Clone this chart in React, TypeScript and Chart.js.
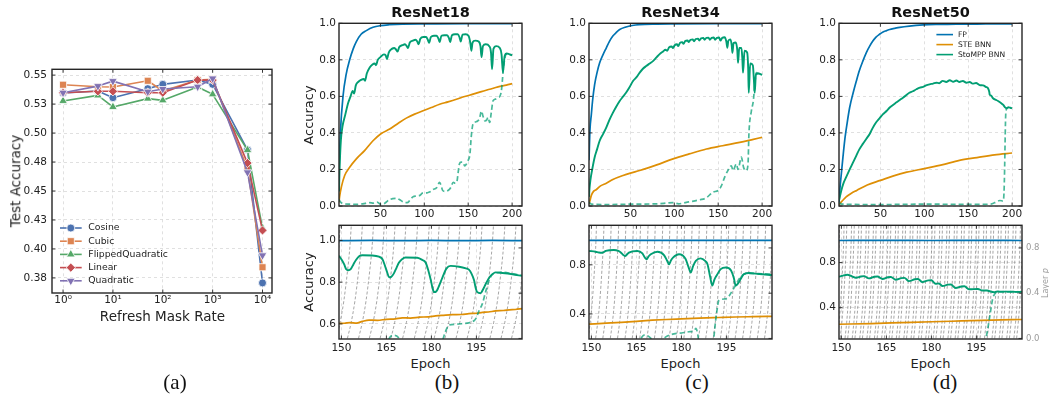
import React, { useEffect, useRef } from "react";
import { Chart, registerables } from "chart.js";

Chart.register(...registerables);

const SANS = "'DejaVu Sans', 'Noto Sans', sans-serif";
const SERIF = "'Liberation Serif', 'DejaVu Serif', serif";
Chart.defaults.font.family = SANS;
Chart.defaults.color = "#222";

// ---------------- Panel (a) data ----------------
const refreshMaskRates = [1, 5, 10, 50, 100, 500, 1000, 5000, 10000];
const cosineAcc = [0.5345, 0.5363, 0.5305, 0.5383, 0.542, 0.5457, 0.542, 0.4855, 0.3707];
const cubicAcc = [0.5417, 0.54, 0.5397, 0.5451, 0.5363, 0.5457, 0.5463, 0.469, 0.3842];
const flippedQuadraticAcc = [0.5277, 0.5325, 0.5225, 0.5297, 0.5282, 0.5397, 0.5334, 0.4853, 0.418];
const linearAcc = [0.5348, 0.536, 0.536, 0.5348, 0.5348, 0.5457, 0.5457, 0.4741, 0.416];
const quadraticAcc = [0.5348, 0.5405, 0.5448, 0.5357, 0.538, 0.54, 0.5471, 0.4661, 0.3945];
const rateTicks = [1, 10, 100, 1000, 10000];
const rateTickLabels = ["10⁰", "10¹", "10²", "10³", "10⁴"];
const testAccTicks = [0.375, 0.4, 0.425, 0.45, 0.475, 0.5, 0.525, 0.55];
const testAccTickLabels = ["0.38", "0.40", "0.43", "0.45", "0.48", "0.50", "0.53", "0.55"];

// ---------------- common ticks ----------------
const epochTicks = [50, 100, 150, 200];
const epochTickLabels = ["50", "100", "150", "200"];
const accTicks = [0, 0.2, 0.4, 0.6, 0.8, 1.0];
const accTickLabels = ["0.0", "0.2", "0.4", "0.6", "0.8", "1.0"];
const zoomEpochTicks = [150, 165, 180, 195];
const zoomEpochTickLabels = ["150", "165", "180", "195"];
const r18ZoomTicks = [0.6, 0.8, 1.0];
const r18ZoomTickLabels = ["0.6", "0.8", "1.0"];
const r34ZoomTicks = [0.4, 0.8];
const r34ZoomTickLabels = ["0.4", "0.8"];
const r50ZoomTicks = [0.4, 0.8];
const r50ZoomTickLabels = ["0.4", "0.8"];
const layerPTicks = [0, 0.4, 0.8];
const layerPTickLabels = ["0.0", "0.4", "0.8"];

// ---------------- ResNet18 (epoch, accuracy) ----------------
const r18FP = [[2.85, 0.2], [4.4, 0.4], [7.4, 0.6], [11, 0.72], [15, 0.8], [19, 0.86], [22.6, 0.9], [28, 0.94], [34, 0.96], [41.6, 0.978], [50, 0.987], [60, 0.992], [75, 0.996], [100, 0.997], [150, 0.998], [200, 0.998]];
const r18STE = [[2.85, 0.02], [3.5, 0.05], [5.5, 0.103], [9.3, 0.167], [15, 0.212], [22.6, 0.258], [32, 0.303], [41.6, 0.357], [51, 0.397], [60.6, 0.421], [70, 0.452], [79.5, 0.481], [89, 0.503], [98.6, 0.521], [108, 0.539], [117.5, 0.557], [127, 0.57], [136.6, 0.584], [146, 0.599], [155.5, 0.612], [165, 0.626], [174.5, 0.639], [184, 0.652], [193.5, 0.662], [200, 0.67]];
const r18Sto = [[2.85, 0.08], [3.5, 0.2], [5, 0.36], [7, 0.44], [10, 0.5], [13, 0.56], [16, 0.6], [18.5, 0.63], [20, 0.615], [22, 0.66], [25, 0.68], [28, 0.69], [31, 0.695], [32.5, 0.685], [34.5, 0.725], [38, 0.76], [41, 0.775], [43.5, 0.78], [45, 0.77], [47, 0.8], [50, 0.815], [54, 0.83], [56, 0.825], [57.5, 0.805], [59.5, 0.84], [63, 0.86], [66, 0.865], [68, 0.855], [69.5, 0.845], [71.5, 0.87], [75, 0.88], [78, 0.885], [80, 0.875], [81.5, 0.865], [83.5, 0.895], [87, 0.905], [90, 0.91], [92, 0.9], [93.5, 0.885], [95.5, 0.915], [99, 0.925], [102, 0.925], [104, 0.91], [105.5, 0.893], [107.5, 0.925], [111, 0.932], [114, 0.932], [116, 0.918], [117.5, 0.897], [119.5, 0.932], [123, 0.935], [126, 0.935], [128, 0.92], [129.5, 0.898], [131.5, 0.935], [135, 0.94], [138, 0.94], [140, 0.925], [141.5, 0.9], [143.5, 0.938], [147, 0.94], [150.5, 0.93], [152.5, 0.89], [153.6, 0.85], [155, 0.895], [158, 0.905], [162, 0.9], [164, 0.875], [165.2, 0.815], [166.8, 0.875], [170, 0.885], [174, 0.875], [176, 0.84], [177.2, 0.748], [178.8, 0.86], [182, 0.875], [186, 0.865], [188, 0.83], [189.6, 0.732], [191.5, 0.82], [194, 0.835], [197, 0.83], [200, 0.825]];
const r18StoDet = [[2.85, 0.035], [5, 0.02], [7.4, 0.013], [15, 0.01], [22.6, 0.009], [30, 0.012], [37.8, 0.018], [42, 0.016], [46, 0.022], [49, 0.012], [51, 0.009], [54, 0.012], [56.8, 0.022], [60, 0.035], [64, 0.04], [68, 0.042], [72, 0.034], [75, 0.025], [78, 0.018], [81.5, 0.02], [84, 0.035], [87, 0.05], [91, 0.055], [95, 0.058], [98, 0.07], [100.5, 0.07], [103, 0.072], [106, 0.076], [110, 0.09], [114, 0.1], [117.5, 0.13], [119, 0.115], [121, 0.085], [124, 0.08], [127, 0.085], [130, 0.1], [133, 0.13], [135, 0.125], [137, 0.13], [138.5, 0.18], [140, 0.23], [142, 0.24], [144, 0.24], [146, 0.22], [148, 0.23], [150, 0.25], [152, 0.285], [153.5, 0.38], [155.5, 0.45], [158, 0.46], [161, 0.466], [163, 0.48], [165, 0.52], [167, 0.49], [169, 0.466], [171, 0.47], [172.6, 0.485], [174.5, 0.457], [176.5, 0.52], [178.3, 0.575], [181, 0.585], [184, 0.593], [186, 0.6], [187.8, 0.63], [189, 0.69], [190, 0.75], [191.5, 0.8], [193, 0.83], [196, 0.832], [200, 0.826]];
// ResNet18 zoom (epochs 150+)
const r18ZoomFP = [[149.2, 0.999], [160, 1.0], [170, 0.999], [180, 1.0], [190, 0.999], [200, 1.0], [210.2, 0.999]];
const r18ZoomSTE = [[149.2, 0.602], [151, 0.603], [153, 0.606], [155, 0.604], [157, 0.612], [159.2, 0.618], [162, 0.617], [165, 0.622], [168, 0.624], [170.3, 0.629], [173, 0.628], [176, 0.632], [179, 0.634], [181.4, 0.638], [184, 0.641], [187, 0.644], [190, 0.645], [192.5, 0.649], [195, 0.651], [197, 0.655], [199, 0.657], [201.4, 0.662], [204, 0.664], [206, 0.667], [208, 0.669], [210.2, 0.673]];
const r18ZoomSto = [[149.2, 0.926], [150.2, 0.905], [150.9, 0.886], [151.6, 0.862], [152.3, 0.857], [153.1, 0.862], [154, 0.885], [154.8, 0.905], [156, 0.925], [157, 0.929], [160.3, 0.928], [162.5, 0.922], [163.7, 0.91], [164.6, 0.875], [165.3, 0.845], [165.9, 0.823], [166.6, 0.825], [167.5, 0.842], [168.4, 0.87], [169.2, 0.894], [170.2, 0.91], [171.4, 0.918], [175.3, 0.917], [177, 0.906], [178.1, 0.893], [179, 0.855], [179.8, 0.81], [180.4, 0.77], [180.9, 0.752], [181.6, 0.755], [182.2, 0.77], [183.7, 0.823], [185, 0.865], [186.4, 0.878], [189.2, 0.874], [191.5, 0.866], [192.5, 0.86], [193.4, 0.84], [194.2, 0.81], [194.8, 0.77], [195.3, 0.752], [196.4, 0.747], [197.2, 0.765], [198.1, 0.791], [199, 0.815], [199.8, 0.831], [201.4, 0.847], [203.7, 0.844], [207, 0.838], [210.2, 0.83]];
const r18ZoomStoDet = [[164.8, 0.49], [165.6, 0.52], [166.4, 0.54], [167.5, 0.545], [169, 0.535], [169.8, 0.51], [170.3, 0.49], [171, null], [182.8, 0.49], [183.7, 0.52], [184.6, 0.56], [185.9, 0.594], [188, 0.598], [190.3, 0.601], [192.5, 0.605], [194.2, 0.615], [194.8, 0.625], [195.8, 0.66], [197, 0.697], [198.1, 0.755], [199.2, 0.807], [200.2, 0.835], [200.9, 0.842], [203.7, 0.847], [207, 0.84], [210.2, 0.832]];

// ---------------- ResNet34 ----------------
const r34FP = [[2.85, 0.25], [4, 0.42], [5.5, 0.5], [7, 0.58], [9.3, 0.666], [12, 0.73], [15, 0.784], [19, 0.83], [22.6, 0.866], [26, 0.9], [30, 0.93], [34, 0.95], [37.8, 0.966], [45, 0.98], [52, 0.988], [60, 0.993], [80, 0.996], [100, 0.997], [150, 0.998], [200, 0.998]];
const r34STE = [[2.85, 0.01], [4, 0.03], [5.5, 0.058], [8, 0.08], [11, 0.089], [16, 0.11], [22.6, 0.125], [30, 0.145], [41.6, 0.167], [50, 0.18], [60.6, 0.194], [80, 0.225], [98.6, 0.258], [117, 0.285], [136.6, 0.312], [155, 0.33], [174.5, 0.348], [190, 0.365], [200, 0.376]];
const r34Sto = [[2.85, 0.05], [3.5, 0.1], [4.4, 0.14], [6.5, 0.2], [9.3, 0.267], [12, 0.31], [15, 0.357], [19, 0.395], [22.6, 0.43], [26, 0.47], [30, 0.51], [34, 0.545], [37.8, 0.575], [41, 0.595], [45, 0.62], [49, 0.65], [53, 0.684], [57, 0.705], [60.6, 0.73], [64, 0.75], [68, 0.766], [72, 0.78], [75.7, 0.793], [80, 0.815], [83, 0.83], [87, 0.845], [90, 0.855], [92, 0.85], [94, 0.868], [97, 0.873], [98.5, 0.865], [100.5, 0.88], [103, 0.885], [104.5, 0.875], [106.5, 0.893], [109, 0.897], [110.5, 0.888], [112.5, 0.903], [115, 0.906], [116.5, 0.897], [118.5, 0.91], [121, 0.912], [122.5, 0.902], [124.5, 0.914], [127, 0.916], [128.5, 0.906], [130.5, 0.918], [133, 0.92], [134.5, 0.91], [136.5, 0.92], [139, 0.921], [140.5, 0.91], [142.5, 0.92], [145, 0.922], [146.5, 0.91], [148.5, 0.92], [151, 0.922], [152.5, 0.905], [154.5, 0.92], [157.4, 0.924], [159.3, 0.9], [160.4, 0.866], [161.6, 0.905], [164, 0.912], [165.4, 0.88], [166.2, 0.838], [167.5, 0.892], [170, 0.895], [171.8, 0.85], [172.6, 0.784], [174, 0.865], [176.5, 0.865], [177.6, 0.8], [178.3, 0.73], [180, 0.85], [183, 0.84], [184.2, 0.75], [184.8, 0.62], [186.5, 0.78], [189.5, 0.77], [190.8, 0.68], [191.6, 0.62], [193, 0.72], [196, 0.725], [200, 0.718]];
const r34StoDet = [[2.85, 0.02], [6, 0.01], [20, 0.008], [50, 0.01], [80, 0.012], [98.6, 0.018], [105, 0.012], [113.7, 0.02], [120, 0.025], [129, 0.034], [136.6, 0.045], [144, 0.076], [150, 0.085], [153.6, 0.11], [157.4, 0.158], [161, 0.194], [165, 0.22], [166.9, 0.194], [170.7, 0.23], [172.6, 0.2], [176.4, 0.267], [179, 0.21], [182, 0.194], [184, 0.23], [185, 0.394], [187.8, 0.52], [190, 0.575], [192, 0.684], [193.5, 0.73], [196, 0.725], [200, 0.72]];
const r34ZoomFP = [[149.2, 0.999], [165, 1.0], [180, 0.999], [195, 1.0], [210.2, 0.999]];
const r34ZoomSTE = [[149.2, 0.317], [155, 0.325], [160, 0.332], [165, 0.34], [170.3, 0.349], [175, 0.355], [180, 0.36], [186, 0.366], [192.5, 0.371], [198, 0.375], [204, 0.378], [210.2, 0.381]];
const r34ZoomSto = [[149.2, 0.913], [151.4, 0.907], [152.5, 0.9], [153.7, 0.898], [154.8, 0.913], [157.5, 0.921], [159, 0.913], [159.8, 0.9], [160.6, 0.88], [161.2, 0.872], [162, 0.888], [162.5, 0.9], [165.3, 0.913], [167, 0.893], [167.8, 0.86], [168.4, 0.845], [169.1, 0.87], [169.8, 0.886], [172, 0.907], [174.2, 0.88], [175.2, 0.835], [175.9, 0.805], [176.5, 0.835], [177.2, 0.859], [179.2, 0.886], [181.4, 0.848], [182.4, 0.78], [183.1, 0.738], [183.9, 0.79], [184.8, 0.832], [186.4, 0.853], [188, 0.83], [188.7, 0.805], [189.6, 0.7], [190.3, 0.631], [191, 0.68], [191.7, 0.711], [193.1, 0.765], [194.8, 0.778], [196.5, 0.755], [197.5, 0.69], [198.1, 0.631], [198.6, 0.64], [199.2, 0.66], [200.1, 0.7], [200.9, 0.725], [202.5, 0.733], [205.9, 0.725], [210.2, 0.717]];
const r34ZoomStoDet = [[165, 0.15], [166.5, 0.2], [167.5, 0.228], [168.5, 0.225], [169.8, 0.202], [170.5, 0.17], [171, null], [173, 0.15], [174.2, 0.2], [175.5, 0.222], [177.5, 0.238], [180, 0.245], [182.5, 0.255], [184.3, 0.265], [184.8, 0.282], [185.4, 0.24], [185.9, 0.15], [186.5, null], [190.6, 0.15], [191.2, 0.3], [191.7, 0.4], [192.5, 0.51], [194.8, 0.523], [196, 0.55], [197, 0.59], [198.3, 0.644], [199.2, 0.684], [200.9, 0.725], [203.7, 0.73], [207, 0.727], [210.2, 0.725]];

// ---------------- ResNet50 ----------------
const r50FP = [[2.85, 0.02], [4, 0.1], [5.5, 0.176], [7.4, 0.27], [9.3, 0.357], [12, 0.45], [15, 0.539], [19, 0.62], [22.6, 0.684], [26, 0.74], [30, 0.793], [34, 0.84], [37.8, 0.875], [41, 0.9], [45, 0.924], [49, 0.94], [53, 0.953], [57, 0.96], [60.6, 0.966], [66, 0.972], [72, 0.978], [83, 0.985], [98.6, 0.991], [117.5, 0.994], [136.6, 0.996], [150, 0.995], [170, 0.997], [200, 0.997]];
const r50STE = [[2.85, 0.005], [5, 0.02], [7, 0.03], [11, 0.05], [17, 0.07], [23, 0.085], [35, 0.115], [50, 0.14], [65, 0.165], [80, 0.185], [100, 0.205], [120, 0.225], [140, 0.25], [160, 0.265], [180, 0.28], [200, 0.29]];
const r50Sto = [[2.85, 0.03], [5.5, 0.085], [8, 0.125], [11, 0.158], [14, 0.19], [17, 0.22], [20, 0.25], [22.6, 0.276], [26, 0.31], [30, 0.34], [34, 0.368], [37.8, 0.394], [41, 0.425], [45, 0.457], [49, 0.48], [53, 0.503], [57, 0.52], [60.6, 0.539], [64, 0.552], [68, 0.566], [72, 0.58], [75.7, 0.593], [79, 0.605], [83, 0.62], [87, 0.628], [91, 0.639], [95, 0.648], [98.6, 0.652], [102, 0.66], [106, 0.666], [110, 0.67], [113.7, 0.675], [117, 0.672], [121, 0.685], [125, 0.679], [129, 0.688], [133, 0.68], [136.6, 0.687], [140, 0.679], [144, 0.684], [148, 0.675], [151.7, 0.679], [155, 0.67], [159, 0.673], [163, 0.662], [167, 0.66], [170, 0.652], [172.6, 0.644], [174, 0.625], [174.5, 0.61], [176, 0.605], [178.3, 0.59], [181, 0.582], [184, 0.575], [187, 0.565], [190, 0.553], [192, 0.54], [193.5, 0.535], [196, 0.54], [198, 0.538], [200, 0.535]];
const r50StoDet = [[2.85, 0.018], [6, 0.01], [50, 0.008], [100, 0.01], [150, 0.009], [175, 0.01], [182, 0.022], [186, 0.03], [190, 0.027], [191, 0.1], [193, 0.52], [195.6, 0.54], [200, 0.535]];
const r50ZoomFP = [[149.2, 0.996], [165, 0.997], [180, 0.996], [195, 0.997], [210.2, 0.996]];
const r50ZoomSTE = [[149.2, 0.253], [160, 0.259], [170, 0.267], [180, 0.275], [190, 0.282], [200, 0.289], [210.2, 0.295]];
const r50ZoomSto = [[149.2, 0.675], [150.5, 0.685], [152, 0.692], [153.5, 0.678], [154.8, 0.665], [156.5, 0.677], [157.5, 0.68], [159.2, 0.66], [161, 0.675], [162, 0.676], [163.7, 0.655], [165.5, 0.67], [166.5, 0.672], [168.1, 0.648], [170, 0.662], [171, 0.664], [172.5, 0.636], [174.5, 0.652], [175.5, 0.655], [177, 0.627], [179, 0.642], [180, 0.643], [181.4, 0.612], [182.5, 0.615], [183.7, 0.592], [185.5, 0.605], [186.5, 0.606], [188.1, 0.574], [190, 0.588], [191, 0.59], [192.5, 0.563], [194, 0.565], [195.5, 0.566], [197, 0.552], [198.5, 0.553], [199.2, 0.548], [200.9, 0.537], [202, 0.543], [203.7, 0.542], [206, 0.542], [208, 0.54], [210.2, 0.541]];
const r50ZoomStoDet = [[197.8, 0.08], [198.7, 0.2], [199.5, 0.33], [200.5, 0.488], [201.2, 0.525], [201.7, 0.537], [204, 0.541], [207, 0.54], [210.2, 0.54]];

// ---------------- Layer p ramps (gray dashed, right axis) ----------------
const layerRampT = [0, 0.25, 0.5, 0.75, 0.9, 1];
const layerRampP = [0, 0.14, 0.33, 0.6, 0.8, 1];
const r18LayerStarts = [144.6, 148.3, 152, 155.7, 159.3, 162.9, 166.5, 170.4, 174.3, 177.6, 180.9, 184.5, 188.2, 191.9, 195.7, 199.5, 203.2, 206.7];
const r34LayerStarts = [146.5, 148.9, 151.4, 153.8, 156.3, 158.7, 161.2, 163.6, 166.1, 168.5, 171, 173.4, 175.9, 178.3, 180.8, 183.2, 185.7, 188.1, 190.6, 193, 195.5, 197.9, 200.4, 202.8, 205.3, 207.7];
const r50LayerStarts = [146.3, 147.2, 148.7, 149.6, 151.2, 152.1, 153.6, 154.5, 156.1, 157, 158.5, 159.4, 161, 161.9, 163.4, 164.3, 165.9, 166.8, 168.3, 169.2, 170.8, 171.7, 173.2, 174.1, 175.7, 176.6, 178.1, 179, 180.6, 181.5, 183, 183.9, 185.5, 186.4, 187.9, 188.8, 190.4, 191.3, 192.8, 193.7, 195.3, 196.2, 197.7, 198.6, 200.2, 201.1, 202.6, 203.5, 205.1, 206, 207.5, 208.4];

// ---------------- styles ----------------
const FP_C = "#0173b2";
const STE_C = "#de8f05";
const STO_C = "#029e73";
const STO_LIGHT = "rgba(2,158,115,0.72)";
const GRAY = "rgba(100,100,100,0.68)";

const gridStyle = { color: "#d9d9d9", lineWidth: 0.8, drawTicks: false };
const borderStyle = { display: false, dash: [3, 3] };

const toXY = (a: any[]) => a.map(([x, y]: any) => ({ x, y }));
const fixTicks = (values: number[]) => (scale: any) => {
  scale.ticks = values.map((v) => ({ value: v }));
};

function xAxis(min: number, max: number, ticks: number[], labels: string[], h: number, pad: number, type = "linear") {
  return {
    type, min, max,
    afterBuildTicks: fixTicks(ticks),
    afterFit: (s: any) => { s.height = h; },
    ticks: { autoSkip: false, maxRotation: 0, minRotation: 0, padding: pad, font: { size: 10.5 }, color: "#222", callback: (_v: any, i: number) => labels[i] },
    grid: gridStyle, border: borderStyle,
  };
}
function yAxis(min: number, max: number, ticks: number[], labels: string[], w: number, pad = 3) {
  return {
    type: "linear", position: "left", min, max,
    afterBuildTicks: fixTicks(ticks),
    afterFit: (s: any) => { s.width = w; },
    ticks: { autoSkip: false, padding: pad, font: { size: 10.5 }, color: "#222", callback: (_v: any, i: number) => labels[i] },
    grid: gridStyle, border: borderStyle,
  };
}

function seg(ctx: any, x1: number, y1: number, x2: number, y2: number) {
  ctx.beginPath(); ctx.moveTo(x1, y1); ctx.lineTo(x2, y2); ctx.stroke();
}

const framePlugin = {
  id: "frame",
  afterDatasetsDraw(chart: any) {
    const { ctx, chartArea: a, scales } = chart;
    ctx.save();
    ctx.strokeStyle = "#262626";
    ctx.lineWidth = 0.9;
    const L = 3.5;
    const sx = scales.x;
    for (const t of sx.ticks) { const p = sx.getPixelForValue(t.value); seg(ctx, p, a.bottom, p, a.bottom - L); seg(ctx, p, a.top, p, a.top + L); }
    const sy = scales.y;
    for (const t of sy.ticks) { const p = sy.getPixelForValue(t.value); seg(ctx, a.left, p, a.left + L, p); if (!scales.y1) seg(ctx, a.right, p, a.right - L, p); }
    if (scales.y1) for (const t of scales.y1.ticks) { const p = scales.y1.getPixelForValue(t.value); seg(ctx, a.right, p, a.right - L, p); }
    ctx.lineWidth = 1.4;
    ctx.strokeRect(a.left, a.top, a.right - a.left, a.bottom - a.top);
    ctx.restore();
  },
};

function drawMarker(ctx: any, style: string, x: number, y: number, r: number, color: string) {
  ctx.save();
  ctx.beginPath();
  if (style === "circle") ctx.arc(x, y, r, 0, Math.PI * 2);
  else if (style === "rect") { const s = r * Math.SQRT1_2; ctx.rect(x - s, y - s, 2 * s, 2 * s); }
  else if (style === "rectRot") { ctx.moveTo(x, y - r); ctx.lineTo(x + r, y); ctx.lineTo(x, y + r); ctx.lineTo(x - r, y); ctx.closePath(); }
  else if (style === "triangle") { ctx.moveTo(x, y - r); ctx.lineTo(x + r * 0.866, y + r * 0.5); ctx.lineTo(x - r * 0.866, y + r * 0.5); ctx.closePath(); }
  else { ctx.moveTo(x, y + r); ctx.lineTo(x + r * 0.866, y - r * 0.5); ctx.lineTo(x - r * 0.866, y - r * 0.5); ctx.closePath(); }
  ctx.fillStyle = color; ctx.fill();
  ctx.strokeStyle = "#fff"; ctx.lineWidth = 0.8; ctx.stroke();
  ctx.restore();
}

const aSeries = [
  { label: "Cosine", values: cosineAcc, color: "#4c72b0", style: "circle", r: 4, rot: 0, legendStyle: "circle" },
  { label: "Cubic", values: cubicAcc, color: "#dd8452", style: "rect", r: 5, rot: 0, legendStyle: "rect" },
  { label: "FlippedQuadratic", values: flippedQuadraticAcc, color: "#55a868", style: "triangle", r: 5, rot: 0, legendStyle: "triangle" },
  { label: "Linear", values: linearAcc, color: "#c44e52", style: "rectRot", r: 4.6, rot: 0, legendStyle: "rectRot" },
  { label: "Quadratic", values: quadraticAcc, color: "#8172b3", style: "triangle", r: 5, rot: 180, legendStyle: "triangleDown" },
];

const aLegendPlugin = {
  id: "aLegend",
  afterDatasetsDraw(chart: any) {
    const { ctx, chartArea: a } = chart;
    ctx.save();
    aSeries.forEach((s, i) => {
      const y = a.top + 158.7 + i * 13.2;
      ctx.strokeStyle = s.color; ctx.lineWidth = 1.6;
      seg(ctx, a.left + 8, y, a.left + 29.7, y);
      drawMarker(ctx, s.legendStyle, a.left + 18.8, y, s.r, s.color);
      ctx.fillStyle = "#222"; ctx.font = `9.3px ${SANS}`; ctx.textBaseline = "middle"; ctx.textAlign = "left";
      ctx.fillText(s.label, a.left + 36.3, y);
    });
    ctx.restore();
  },
};

const lineLegendItems = [
  { label: "FP", color: FP_C },
  { label: "STE BNN", color: STE_C },
  { label: "StoMPP BNN", color: STO_C },
];
const lineLegendPlugin = {
  id: "lineLegend",
  afterDatasetsDraw(chart: any) {
    const { ctx, chartArea: a } = chart;
    ctx.save();
    lineLegendItems.forEach((it, i) => {
      const y = a.top + 11.3 + i * 10;
      ctx.strokeStyle = it.color; ctx.lineWidth = 1.6;
      seg(ctx, a.left + 97.4, y, a.left + 114, y);
      ctx.fillStyle = "#222"; ctx.font = `7.6px ${SANS}`; ctx.textBaseline = "middle"; ctx.textAlign = "left";
      ctx.fillText(it.label, a.left + 119, y);
    });
    ctx.restore();
  },
};

function baseOptions(m: any, hasY1: boolean) {
  return {
    responsive: false, animation: false, devicePixelRatio: 1, events: [],
    layout: { padding: { left: 0, top: m.mt, right: hasY1 ? 0 : m.mr, bottom: 0 }, autoPadding: false },
    plugins: { legend: { display: false }, tooltip: { enabled: false }, title: { display: false } },
    elements: { point: { radius: 0 }, line: { borderJoinStyle: "round" } },
  };
}

function lineDs(data: any[], color: string, width: number, order: number, dash: number[] = []) {
  return {
    data: toXY(data), borderColor: color, backgroundColor: color, borderWidth: width, borderDash: dash,
    pointRadius: 0, cubicInterpolationMode: "monotone", order, spanGaps: false, fill: false,
  };
}

function buildA(m: any) {
  return {
    type: "line",
    data: {
      datasets: aSeries.map((s, i) => ({
        label: s.label,
        data: refreshMaskRates.map((x, j) => ({ x, y: s.values[j] })),
        borderColor: s.color, backgroundColor: s.color, borderWidth: 1.6,
        pointStyle: s.style, pointRadius: s.r, pointRotation: s.rot,
        pointBackgroundColor: s.color, pointBorderColor: "#fff", pointBorderWidth: 0.8,
        tension: 0, order: aSeries.length - i, fill: false,
      })),
    },
    options: {
      ...baseOptions(m, false),
      scales: {
        x: xAxis(0.631, 15500, rateTicks, rateTickLabels, m.mb, 1, "logarithmic"),
        y: yAxis(0.362, 0.555, testAccTicks, testAccTickLabels, m.ml, 5),
      },
    },
    plugins: [framePlugin, aLegendPlugin],
  };
}

function buildTop(m: any, spec: any) {
  return {
    type: "line",
    data: {
      datasets: [
        lineDs(spec.det, STO_LIGHT, 1.7, 0, [5, 3]),
        lineDs(spec.sto, STO_C, 1.9, 1),
        lineDs(spec.ste, STE_C, 1.7, 2),
        lineDs(spec.fp, FP_C, 1.7, 3),
      ],
    },
    options: {
      ...baseOptions(m, false),
      scales: {
        x: xAxis(2.85, 211.3, epochTicks, epochTickLabels, m.mb, 1.5),
        y: yAxis(0, 1, accTicks, accTickLabels, m.ml),
      },
    },
    plugins: spec.legend ? [framePlugin, lineLegendPlugin] : [framePlugin],
  };
}

function buildZoom(m: any, spec: any) {
  const grayDs = spec.starts.map((s: number) => ({
    data: layerRampT.map((t, i) => ({ x: s + spec.span * t, y: layerRampP[i] })),
    yAxisID: "y1", borderColor: GRAY, borderWidth: 0.85, borderDash: [3, 2],
    pointRadius: 0, cubicInterpolationMode: "monotone", order: 10, fill: false,
  }));
  return {
    type: "line",
    data: {
      datasets: [
        lineDs(spec.det, STO_LIGHT, 1.7, 0, [5, 3]),
        lineDs(spec.sto, STO_C, 1.9, 1),
        lineDs(spec.ste, STE_C, 1.7, 2),
        lineDs(spec.fp, FP_C, 1.7, 3),
        ...grayDs,
      ],
    },
    options: {
      ...baseOptions(m, true),
      scales: {
        x: xAxis(149.2, 210.2, zoomEpochTicks, zoomEpochTickLabels, m.mb, 2.5),
        y: yAxis(spec.yMin, spec.yMax, spec.yTicks, spec.yLabels, m.ml),
        y1: {
          type: "linear", position: "right", min: -0.005, max: 1.0,
          afterBuildTicks: fixTicks(layerPTicks),
          afterFit: (s: any) => { s.width = m.mr; },
          ticks: { display: spec.showP, padding: 4, color: "#9a9a9a", font: { size: 8.5 }, callback: (_v: any, i: number) => layerPTickLabels[i] },
          grid: { display: false, drawTicks: false },
          border: { display: false },
        },
      },
    },
    plugins: [framePlugin],
  };
}

function Plot(props: any) {
  const { left, top, width, height, ml, mr, mt, mb, build } = props;
  const ref = useRef<HTMLCanvasElement>(null);
  useEffect(() => {
    const chart = new Chart(ref.current as any, build({ ml, mr, mt, mb }));
    return () => chart.destroy();
  }, []);
  const w = width + ml + mr;
  const h = height + mt + mb;
  return (
    <canvas ref={ref} width={w} height={h}
      style={{ position: "absolute", left: left - ml, top: top - mt, width: w, height: h }} />
  );
}

function Label(props: any) {
  const { x, y, size, weight, rotate, color, family, children } = props;
  return (
    <div style={{
      position: "absolute", left: x, top: y, transform: `translate(-50%, -50%) rotate(${rotate || 0}deg)`,
      fontSize: size, fontWeight: weight || "normal", color: color || "#222", fontFamily: family || SANS,
      whiteSpace: "nowrap", lineHeight: 1,
    }}>{children}</div>
  );
}

const PANEL_LEFTS = [339, 589, 839];

export default function App() {
  const tops = [
    { fp: r18FP, ste: r18STE, sto: r18Sto, det: r18StoDet, legend: false },
    { fp: r34FP, ste: r34STE, sto: r34Sto, det: r34StoDet, legend: false },
    { fp: r50FP, ste: r50STE, sto: r50Sto, det: r50StoDet, legend: true },
  ];
  const zooms = [
    { fp: r18ZoomFP, ste: r18ZoomSTE, sto: r18ZoomSto, det: r18ZoomStoDet, yMin: 0.5275, yMax: 1.0725, yTicks: r18ZoomTicks, yLabels: r18ZoomTickLabels, starts: r18LayerStarts, span: 5, showP: false },
    { fp: r34ZoomFP, ste: r34ZoomSTE, sto: r34ZoomSto, det: r34ZoomStoDet, yMin: 0.196, yMax: 1.122, yTicks: r34ZoomTicks, yLabels: r34ZoomTickLabels, starts: r34LayerStarts, span: 2.8, showP: false },
    { fp: r50ZoomFP, ste: r50ZoomSTE, sto: r50ZoomSto, det: r50ZoomStoDet, yMin: 0.122, yMax: 1.131, yTicks: r50ZoomTicks, yLabels: r50ZoomTickLabels, starts: r50LayerStarts, span: 2.2, showP: true },
  ];
  const titles = ["ResNet18", "ResNet34", "ResNet50"];
  const subs = ["(b)", "(c)", "(d)"];
  const subX = [447, 697, 945];
  return (
    <div style={{ position: "fixed", left: 0, top: 0, width: 1049, height: 398, background: "#fff", overflow: "hidden" }}>
      <Plot left={52} top={68} width={220} height={225} ml={50} mr={10} mt={10} mb={24} build={buildA} />
      {tops.map((spec, i) => (
        <Plot key={"t" + i} left={PANEL_LEFTS[i]} top={22} width={183} height={184} ml={36} mr={6} mt={8} mb={16}
          build={(m: any) => buildTop(m, spec)} />
      ))}
      {zooms.map((spec, i) => (
        <Plot key={"z" + i} left={PANEL_LEFTS[i]} top={224} width={183} height={115} ml={36} mr={spec.showP ? 26 : 6} mt={8} mb={16}
          build={(m: any) => buildZoom(m, spec)} />
      ))}

      <Label x={15.5} y={180.5} size={13.5} rotate={-90}>Test Accuracy</Label>
      <Label x={162.5} y={317} size={13.5}>Refresh Mask Rate</Label>
      {titles.map((t, i) => (
        <Label key={t} x={PANEL_LEFTS[i] + 91.5} y={12} size={14.5} weight="bold" color="#111">{t}</Label>
      ))}
      <Label x={308} y={115} size={13} rotate={-90}>Accuracy</Label>
      <Label x={308} y={282} size={13} rotate={-90}>Accuracy</Label>
      {PANEL_LEFTS.map((l, i) => (
        <Label key={"e" + i} x={l + 91.5} y={363} size={13}>Epoch</Label>
      ))}
      <Label x={1045.5} y={282.5} size={8} rotate={-90} color="#9a9a9a">Layer <i>p</i></Label>
      <Label x={175} y={382} size={21} family={SERIF} color="#111">(a)</Label>
      {subs.map((s, i) => (
        <Label key={s} x={subX[i]} y={382} size={21} family={SERIF} color="#111">{s}</Label>
      ))}
    </div>
  );
}
